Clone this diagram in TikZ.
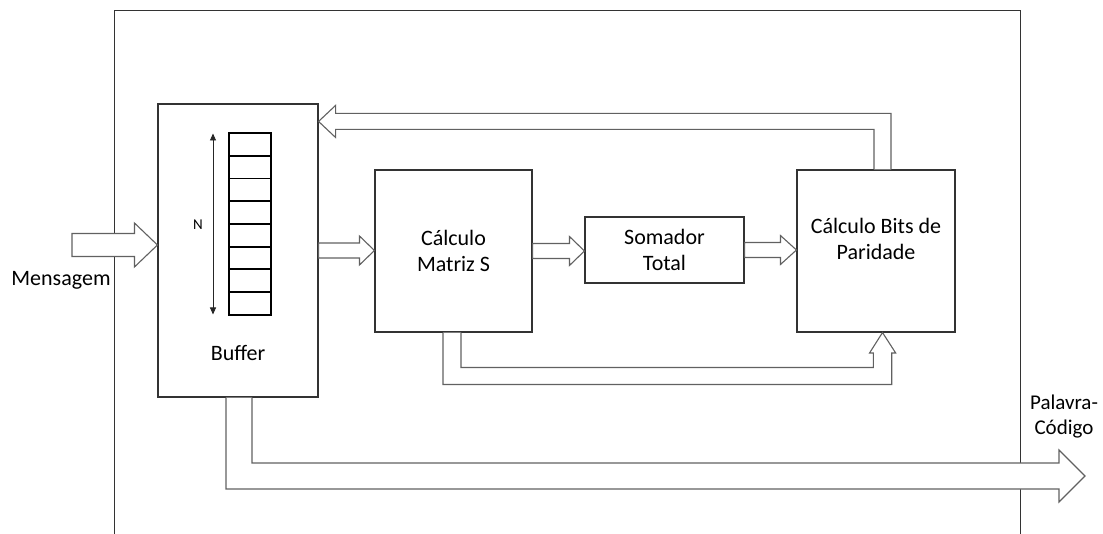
\documentclass[tikz,border=0pt]{standalone}
\usepackage{fontspec}
\setmainfont{Carlito}
\usetikzlibrary{calc,arrows.meta}

% horizontal block arrow: #1 start, #2 tip, #3 body half-height, #4 head half-height, #5 head length
\newcommand\blockarrow[5]{%
  \draw[blk] let \p1=(#1), \p2=(#2) in
    (\x1,\y1+#3pt) -- (\x2-#5pt,\y1+#3pt) -- (\x2-#5pt,\y1+#4pt) -- (\x2,\y1)
    -- (\x2-#5pt,\y1-#4pt) -- (\x2-#5pt,\y1-#3pt) -- (\x1,\y1-#3pt) -- cycle;}

\begin{document}
\begin{tikzpicture}[x=1pt,y=-1pt,
  frame/.style={draw=black!80,line width=1pt},
  block/.style={draw=black!80,line width=1.1pt,fill=white,inner sep=0pt,
                font=\fontsize{22}{26.5}\selectfont,align=center},
  blk/.style={draw=black!62,line width=1.1pt,fill=white,line join=miter},
  cell/.style={draw=black,line width=1.6pt,minimum width=42pt,minimum height=23pt,inner sep=0pt},
  lbl/.style={font=\fontsize{22}{26}\selectfont,align=center,inner sep=0pt}]
\useasboundingbox (0,0) rectangle (1103,534);

% open outer frame
\draw[frame] (114,534) -- (114,11) -- (1020,11) -- (1020,534);

% processing blocks
\node[block,minimum width=160pt,minimum height=293pt] (buf) at (238,250.5) {};
\node[block,minimum width=157pt,minimum height=162pt] (mat) at (453.5,251) {Cálculo\\Matriz S};
\node[block,minimum width=159pt,minimum height=66pt] (som) at (664.5,250) {Somador\\Total};
\node[block,minimum width=158pt,minimum height=162pt] (par) at (876,251) {};
\node[lbl] (partxt) at (876,239) {Cálculo Bits de\\Paridade};
\node[lbl] (buftxt) at (238,353) {Buffer};

% buffer register
\foreach \i in {0,...,7}
  \node[cell] (c\i) at (250,{144.5+22.7*\i}) {};
\coordinate (ntop) at (213,133.5);
\coordinate (nbot) at (213,314.5);
\draw[black!85,line width=0.9pt,{Triangle[length=7pt,width=6pt]}-{Triangle[length=7pt,width=6pt]}] (ntop) -- (nbot);
\node[font=\fontsize{15}{17}\selectfont,inner sep=0pt] (nlbl) at (198,225) {N};

% input message
\coordinate (msgin) at (72,245);
\blockarrow{msgin}{buf.west |- msgin}{11.5}{22}{23}
\node[lbl] (msg) at (61,280) {Mensagem};

% data path between blocks
\blockarrow{buf.east}{mat.west}{7.5}{14.5}{15}
\blockarrow{mat.east}{som.west}{7.5}{14.5}{15}
\blockarrow{som.east}{par.west}{7.5}{14.5}{16}

% feedback from parity block back to the buffer
\coordinate (fb) at ($(par.north)+(6.5,-48)$);
\draw[blk] let \p1=(par.north), \p2=(buf.east), \p3=(fb) in
  (\x3-8.5pt,\y1) -- (\x3-8.5pt,\y3-8pt) -- (\x2+17pt,\y3-8pt) -- (\x2+17pt,\y3-16pt)
  -- (\x2,\y3) -- (\x2+17pt,\y3+16pt) -- (\x2+17pt,\y3+8pt) -- (\x3+8.5pt,\y3+8pt)
  -- (\x3+8.5pt,\y1);

% matrix S also feeds the parity block from below
\draw[blk] let \p1=(mat.south), \p2=(par.south) in
  (\x1-10.5pt,\y1) -- (\x1-10.5pt,\y1-52pt) -- (\x2+15.7pt,\y1-52pt) -- (\x2+15.7pt,\y2-20.5pt)
  -- (\x2+19.7pt,\y2-20.5pt) -- (\x2+6.5pt,\y2) -- (\x2-6.5pt,\y2-20.5pt) -- (\x2-2.7pt,\y2-20.5pt)
  -- (\x2-2.7pt,\y1-35pt) -- (\x1+7.5pt,\y1-35pt) -- (\x1+7.5pt,\y1);

% output code word
\coordinate (outtip) at (1085,476);
\draw[blk] let \p1=(buf.south), \p3=(outtip) in
  (\x1-12pt,\y1) -- (\x1-12pt,\y3-13pt) -- (\x3-26pt,\y3-13pt) -- (\x3-26pt,\y3-26pt)
  -- (\x3,\y3) -- (\x3-26pt,\y3+26pt) -- (\x3-26pt,\y3+13pt) -- (\x1+14pt,\y3+13pt)
  -- (\x1+14pt,\y1);
\node[font=\fontsize{21}{25}\selectfont,align=center,inner sep=0pt] (cw) at (1064,417) {Palavra-\\Código};
\end{tikzpicture}
\end{document}
